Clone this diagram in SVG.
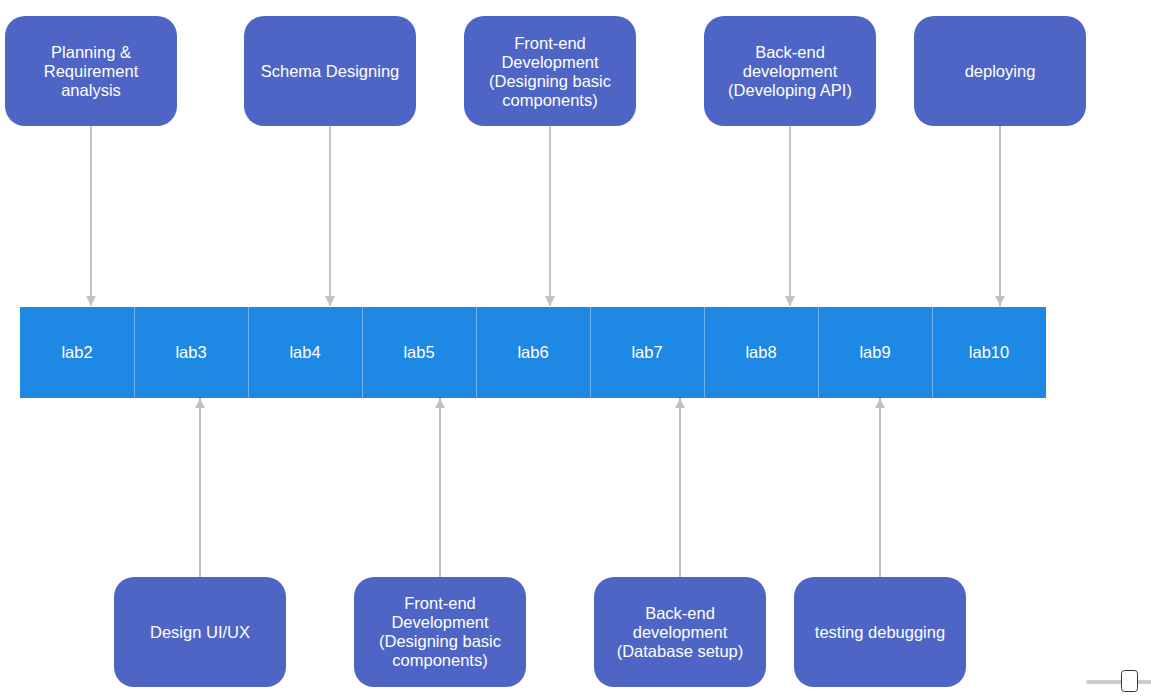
<svg xmlns="http://www.w3.org/2000/svg" width="1151" height="698" viewBox="0 0 1151 698">
<defs>
<marker id="ah" viewBox="0 0 10 10" refX="10" refY="5" markerWidth="10" markerHeight="11" markerUnits="userSpaceOnUse" orient="auto">
<path d="M0,0 L10,5 L0,10 z" fill="#c2c2c2"/>
</marker>
</defs>
<style>
.box{fill:#4e65c6;}
.t{font-family:"Liberation Sans",Arial,sans-serif;font-size:16.5px;fill:#ffffff;text-anchor:middle;dominant-baseline:central;}
.c{stroke:#c2c2c2;stroke-width:2;fill:none;marker-end:url(#ah);}
.div{stroke:#6fb4f0;stroke-width:1;}
</style>
<rect width="1151" height="698" fill="#ffffff"/>
<g id="connectors">
<line class="c" x1="91" y1="126" x2="91" y2="306"/>
<line class="c" x1="330" y1="126" x2="330" y2="306"/>
<line class="c" x1="550" y1="126" x2="550" y2="306"/>
<line class="c" x1="790" y1="126" x2="790" y2="306"/>
<line class="c" x1="1000" y1="126" x2="1000" y2="306"/>
<line class="c" x1="200" y1="577" x2="200" y2="398"/>
<line class="c" x1="440" y1="577" x2="440" y2="398"/>
<line class="c" x1="680" y1="577" x2="680" y2="398"/>
<line class="c" x1="880" y1="577" x2="880" y2="398"/>
</g>
<g id="timeline">
<rect x="20" y="307" width="1026" height="91" fill="#1e88e5"/>
<line class="div" x1="134.5" y1="307" x2="134.5" y2="398"/>
<line class="div" x1="248.5" y1="307" x2="248.5" y2="398"/>
<line class="div" x1="362.5" y1="307" x2="362.5" y2="398"/>
<line class="div" x1="476.5" y1="307" x2="476.5" y2="398"/>
<line class="div" x1="590.5" y1="307" x2="590.5" y2="398"/>
<line class="div" x1="704.5" y1="307" x2="704.5" y2="398"/>
<line class="div" x1="818.5" y1="307" x2="818.5" y2="398"/>
<line class="div" x1="932.5" y1="307" x2="932.5" y2="398"/>
<text class="t" x="77" y="352">lab2</text>
<text class="t" x="191" y="352">lab3</text>
<text class="t" x="305" y="352">lab4</text>
<text class="t" x="419" y="352">lab5</text>
<text class="t" x="533" y="352">lab6</text>
<text class="t" x="647" y="352">lab7</text>
<text class="t" x="761" y="352">lab8</text>
<text class="t" x="875" y="352">lab9</text>
<text class="t" x="989" y="352">lab10</text>
</g>
<g id="n1"><rect class="box" x="5" y="16" width="172" height="110" rx="20"/>
<text class="t" x="91" y="52">Planning &amp;</text><text class="t" x="91" y="71">Requirement</text><text class="t" x="91" y="90">analysis</text></g>
<g id="n2"><rect class="box" x="244" y="16" width="172" height="110" rx="20"/>
<text class="t" x="330" y="71">Schema Designing</text></g>
<g id="n3"><rect class="box" x="464" y="16" width="172" height="110" rx="20"/>
<text class="t" x="550" y="43">Front-end</text><text class="t" x="550" y="62">Development</text><text class="t" x="550" y="81">(Designing basic</text><text class="t" x="550" y="100">components)</text></g>
<g id="n4"><rect class="box" x="704" y="16" width="172" height="110" rx="20"/>
<text class="t" x="790" y="52">Back-end</text><text class="t" x="790" y="71">development</text><text class="t" x="790" y="90">(Developing API)</text></g>
<g id="n5"><rect class="box" x="914" y="16" width="172" height="110" rx="20"/>
<text class="t" x="1000" y="71">deploying</text></g>
<g id="n6"><rect class="box" x="114" y="577" width="172" height="110" rx="20"/>
<text class="t" x="200" y="632">Design UI/UX</text></g>
<g id="n7"><rect class="box" x="354" y="577" width="172" height="110" rx="20"/>
<text class="t" x="440" y="603">Front-end</text><text class="t" x="440" y="622">Development</text><text class="t" x="440" y="641">(Designing basic</text><text class="t" x="440" y="660">components)</text></g>
<g id="n8"><rect class="box" x="594" y="577" width="172" height="110" rx="20"/>
<text class="t" x="680" y="613">Back-end</text><text class="t" x="680" y="632">development</text><text class="t" x="680" y="651">(Database setup)</text></g>
<g id="n9"><rect class="box" x="794" y="577" width="172" height="110" rx="20"/>
<text class="t" x="880" y="632">testing debugging</text></g>
<g id="slider">
<line x1="1088" y1="682" x2="1151" y2="682" stroke="#cccccc" stroke-width="4" stroke-linecap="round"/>
<rect x="1121.5" y="670.5" width="16" height="21" rx="3" fill="#ffffff" stroke="#333333" stroke-width="1"/>
</g>
</svg>
